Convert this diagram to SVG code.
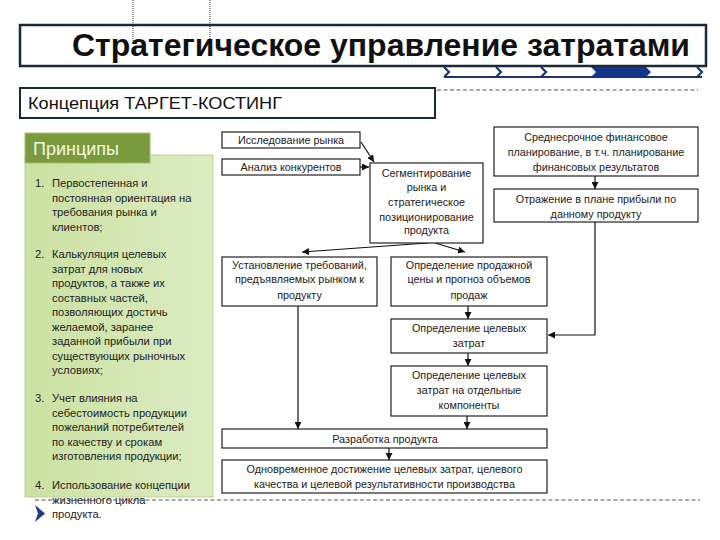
<svg xmlns="http://www.w3.org/2000/svg" width="720" height="540" viewBox="0 0 720 540">
<defs>
<linearGradient id="panelGrad" x1="0" y1="0" x2="1" y2="0">
<stop offset="0" stop-color="#cbe1a2"/>
<stop offset="1" stop-color="#dcecc2"/>
</linearGradient>
<marker id="arr" viewBox="0 0 8 8" refX="8" refY="4" markerWidth="7" markerHeight="7" markerUnits="userSpaceOnUse" orient="auto">
<path d="M0,0 L8,4 L0,8 z" fill="#111"/>
</marker>
<style>
.box{fill:#fff;stroke:#222;stroke-width:1.2}
.bt{font-family:"Liberation Sans",Arial,sans-serif;font-size:10.8px;fill:#222;text-anchor:middle}
.pt{font-family:"Liberation Sans",Arial,sans-serif;font-size:11.2px;fill:#222}
.con{fill:none;stroke:#111;stroke-width:1.2}
.chev{fill:none;stroke:#1f3466;stroke-width:2.2}
.dash{stroke:#555;stroke-width:1;stroke-dasharray:4 2.5;fill:none}
</style>
</defs>
<rect width="720" height="540" fill="#fff"/>

<g id="title">
<line x1="133" y1="0" x2="133" y2="44" stroke="#333" stroke-width="1" stroke-dasharray="1 1"/>
<line x1="210" y1="0" x2="210" y2="44" stroke="#333" stroke-width="1" stroke-dasharray="1 1"/>
<rect x="20" y="25" width="686" height="41" fill="none" stroke="#1c2836" stroke-width="2.5"/>
<text x="690" y="56" text-anchor="end" font-family="Liberation Sans,Arial,sans-serif" font-weight="bold" font-size="31" fill="#111" textLength="618" lengthAdjust="spacingAndGlyphs">Стратегическое управление затратами</text>
</g>

<g id="progress-bar">
<line x1="444" y1="77" x2="702" y2="77" stroke="#1f3466" stroke-width="2"/>
<polyline class="chev" points="444,67 449,72 444,77"/>
<polyline class="chev" points="496,67 501,72 496,77"/>
<polyline class="chev" points="541,67 546,72 541,77"/>
<polygon points="591,67 646,67 651,72 646,77 591,77 596,72" fill="#14368a"/>
<polyline class="chev" points="697,67 702,72 697,77"/>
</g>

<g id="concept">
<rect x="20" y="88" width="415" height="30" fill="#fff" stroke="#1c2836" stroke-width="2"/>
<text x="28" y="109" font-family="Liberation Sans,Arial,sans-serif" font-size="17" fill="#111" textLength="254" lengthAdjust="spacingAndGlyphs">Концепция ТАРГЕТ-КОСТИНГ</text>
<line class="dash" x1="437" y1="90" x2="698" y2="90"/>
</g>

<g id="principles">
<rect x="25" y="155" width="188" height="342" fill="url(#panelGrad)" stroke="#bcd394" stroke-width="1"/>
<rect x="25" y="133" width="125" height="30" fill="#7a9a3e" stroke="#a7c06e" stroke-width="1"/>
<text x="33" y="155" font-family="Liberation Sans,Arial,sans-serif" font-size="18" fill="#f3f8e6">Принципы</text>
<text class="pt" x="35" y="187">1.</text>
<text class="pt" x="52" y="187">Первостепенная и</text>
<text class="pt" x="52" y="201.5">постоянная ориентация на</text>
<text class="pt" x="52" y="216">требования рынка и</text>
<text class="pt" x="52" y="230.5">клиентов;</text>
<text class="pt" x="35" y="258">2.</text>
<text class="pt" x="52" y="258">Калькуляция целевых</text>
<text class="pt" x="52" y="272.5">затрат для новых</text>
<text class="pt" x="52" y="287">продуктов, а также их</text>
<text class="pt" x="52" y="301.5">составных частей,</text>
<text class="pt" x="52" y="316">позволяющих достичь</text>
<text class="pt" x="52" y="330.5">желаемой, заранее</text>
<text class="pt" x="52" y="345">заданной прибыли при</text>
<text class="pt" x="52" y="359.5">существующих рыночных</text>
<text class="pt" x="52" y="373.5">условиях;</text>
<text class="pt" x="35" y="402">3.</text>
<text class="pt" x="52" y="402">Учет влияния на</text>
<text class="pt" x="52" y="416.5">себестоимость продукции</text>
<text class="pt" x="52" y="431">пожеланий потребителей</text>
<text class="pt" x="52" y="445.5">по качеству и срокам</text>
<text class="pt" x="52" y="460">изготовления продукции;</text>
<text class="pt" x="35" y="489">4.</text>
<text class="pt" x="52" y="489">Использование концепции</text>
<text class="pt" x="52" y="503.5">жизненного цикла</text>
<text class="pt" x="52" y="518">продукта.</text>
<polygon points="35,505 45,513.5 35,522 38,513.5" fill="#1f3c88"/>
</g>

<g id="connectors">
<line class="con" x1="361" y1="142" x2="374" y2="162" marker-end="url(#arr)"/>
<line class="con" x1="360" y1="167" x2="369" y2="167" marker-end="url(#arr)"/>
<line class="con" x1="428" y1="243" x2="302" y2="252" marker-end="url(#arr)"/>
<line class="con" x1="435" y1="243" x2="465" y2="252" marker-end="url(#arr)"/>
<line class="con" x1="595" y1="176" x2="595" y2="189" marker-end="url(#arr)"/>
<polyline class="con" points="595,222 595,335 548,335" marker-end="url(#arr)"/>
<line class="con" x1="468" y1="306" x2="468" y2="319" marker-end="url(#arr)"/>
<line class="con" x1="468" y1="353" x2="468" y2="366" marker-end="url(#arr)"/>
<line class="con" x1="298" y1="306" x2="298" y2="429" marker-end="url(#arr)"/>
<line class="con" x1="467" y1="416" x2="467" y2="429" marker-end="url(#arr)"/>
<line class="con" x1="389" y1="448" x2="389" y2="460" marker-end="url(#arr)"/>
</g>

<g id="market-research">
<rect class="box" x="222" y="132" width="138" height="16"/>
<text class="bt" x="291" y="144">Исследование рынка</text>
</g>
<g id="competitors">
<rect class="box" x="222" y="159" width="138" height="16"/>
<text class="bt" x="291" y="171">Анализ конкурентов</text>
</g>
<g id="segmentation">
<rect class="box" x="370" y="163" width="113" height="80"/>
<text class="bt" x="426.5" y="177">Сегментирование</text>
<text class="bt" x="426.5" y="191">рынка и</text>
<text class="bt" x="426.5" y="206">стратегическое</text>
<text class="bt" x="426.5" y="221">позиционирование</text>
<text class="bt" x="426.5" y="234">продукта</text>
</g>
<g id="fin-planning">
<rect class="box" x="494" y="127" width="204" height="49"/>
<text class="bt" x="596" y="141">Среднесрочное финансовое</text>
<text class="bt" x="596" y="156">планирование, в т.ч. планирование</text>
<text class="bt" x="596" y="171">финансовых результатов</text>
</g>
<g id="profit-plan">
<rect class="box" x="494" y="189" width="204" height="33"/>
<text class="bt" x="596" y="203">Отражение в плане прибыли по</text>
<text class="bt" x="596" y="218">данному продукту</text>
</g>
<g id="requirements">
<rect class="box" x="222" y="257" width="155" height="49"/>
<text class="bt" x="299.5" y="269">Установление требований,</text>
<text class="bt" x="299.5" y="283">предъявляемых рынком к</text>
<text class="bt" x="299.5" y="299">продукту</text>
</g>
<g id="selling-price">
<rect class="box" x="391" y="257" width="156" height="49"/>
<text class="bt" x="469" y="269">Определение продажной</text>
<text class="bt" x="469" y="283">цены и прогноз объемов</text>
<text class="bt" x="469" y="299">продаж</text>
</g>
<g id="target-costs">
<rect class="box" x="391" y="319" width="156" height="34"/>
<text class="bt" x="469" y="332">Определение целевых</text>
<text class="bt" x="469" y="347">затрат</text>
</g>
<g id="component-costs">
<rect class="box" x="391" y="366" width="156" height="50"/>
<text class="bt" x="469" y="379">Определение целевых</text>
<text class="bt" x="469" y="394">затрат на отдельные</text>
<text class="bt" x="469" y="409">компоненты</text>
</g>
<g id="development">
<rect class="box" x="222" y="429" width="325" height="19"/>
<text class="bt" x="385" y="442.5">Разработка продукта</text>
</g>
<g id="result">
<rect class="box" x="222" y="460" width="325" height="33"/>
<text class="bt" x="384.5" y="473">Одновременное достижение целевых затрат, целевого</text>
<text class="bt" x="384.5" y="488">качества и целевой результативности производства</text>
</g>

<line class="dash" x1="35" y1="500" x2="700" y2="500"/>
</svg>
